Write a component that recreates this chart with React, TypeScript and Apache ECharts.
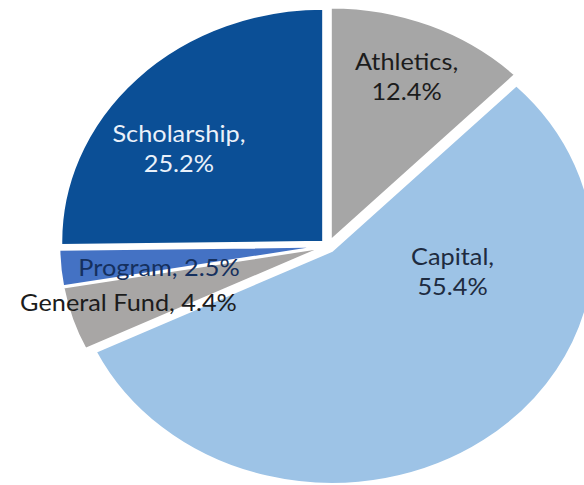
import React, { useEffect, useRef } from "react";
import * as echarts from "echarts";

const categories = ["Athletics", "Capital", "General Fund", "Program", "Scholarship"];
const values = [12.4, 55.4, 4.4, 2.5, 25.2];

// styling (not data)
const sliceColors = ["#A6A6A6", "#9DC3E6", "#A8A6A5", "#4472C4", "#0B4F96"];
const labelColors = ["#1C1C1C", "#1E2B40", "#1C1C1C", "#15305E", "#EAF1FA"];
const labelSingleLine = [false, false, true, true, false];
// label anchor (centre) positions, in the chart's unscaled pixel space
const labelPos = [
  [361.3, 76.5],
  [402.2, 271],
  [114.2, 302.5],
  [141.3, 267.5],
  [159, 148.5],
];

const W = 519;
const H = 485;
const SX = 584 / W;

export default function App() {
  const ref = useRef<HTMLDivElement>(null);
  useEffect(() => {
    document.body.style.margin = "0";
    const chart = echarts.init(ref.current!, null, { renderer: "svg" });
    chart.setOption({
      animation: false,
      backgroundColor: "#ffffff",
      series: [
        {
          type: "pie",
          center: [291.6, 246],
          radius: 233,
          startAngle: 90,
          clockwise: true,
          selectedMode: "multiple",
          selectedOffset: 6,
          itemStyle: { borderColor: "#ffffff", borderWidth: 2 },
          select: { itemStyle: { borderColor: "#ffffff", borderWidth: 2 } },
          emphasis: { disabled: true },
          label: { show: false },
          labelLine: { show: false },
          data: categories.map((name, i) => ({
            name,
            value: values[i],
            selected: true,
            itemStyle: { color: sliceColors[i] },
          })),
        },
      ],
      graphic: categories.map((name, i) => ({
        type: "text",
        x: labelPos[i][0],
        y: labelPos[i][1],
        z: 100,
        silent: true,
        style: {
          text: labelSingleLine[i] ? `${name}, ${values[i]}%` : `${name},\n${values[i]}%`,
          fill: labelColors[i],
          fontFamily: "Lato",
          fontSize: 22.5,
          lineHeight: 30,
          textAlign: "center",
          textVerticalAlign: "middle",
        },
      })),
    });
    return () => chart.dispose();
  }, []);
  return (
    <div
      ref={ref}
      style={{
        position: "fixed",
        left: 0,
        top: 0,
        width: W,
        height: H,
        transform: `scaleX(${SX})`,
        transformOrigin: "0 0",
      }}
    />
  );
}
